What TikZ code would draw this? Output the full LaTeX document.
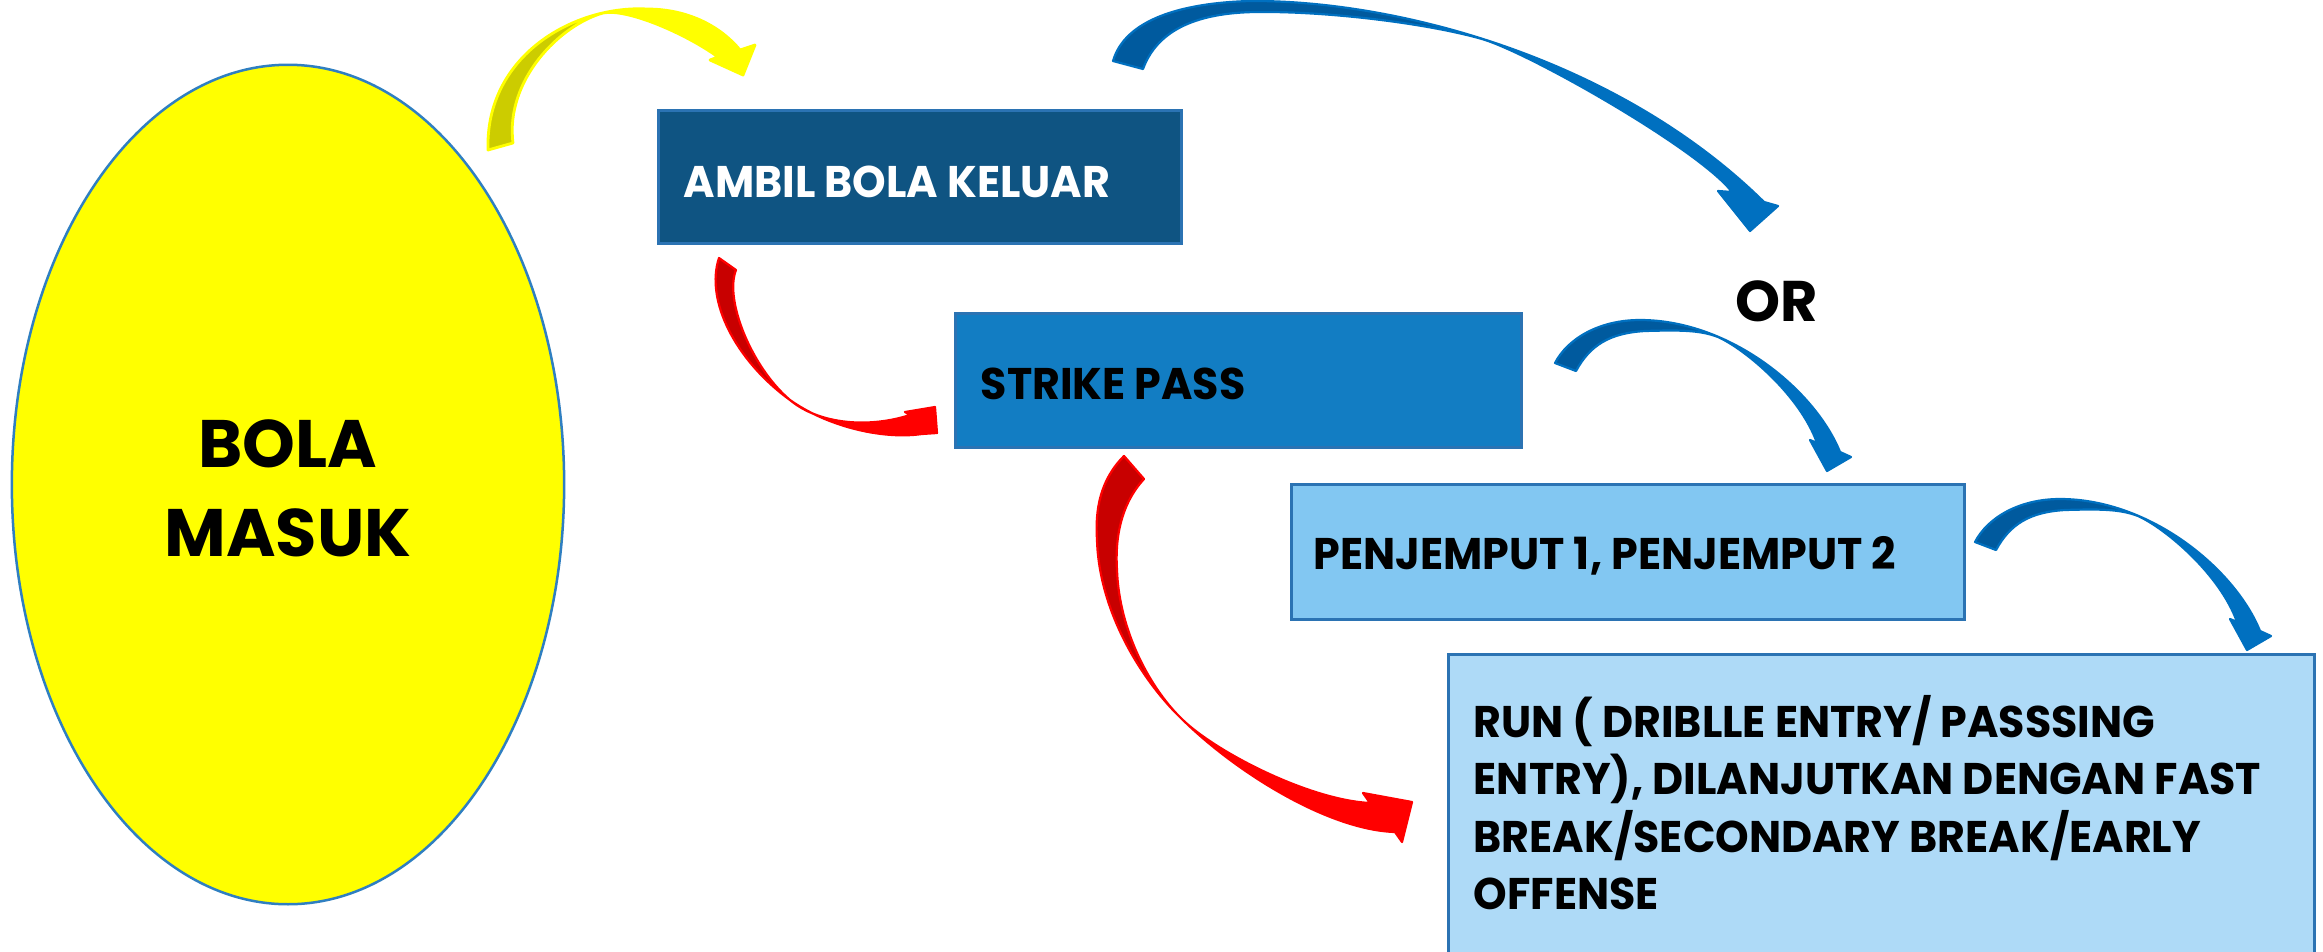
\documentclass[tikz,border=0pt]{standalone}
\usepackage{fontspec}
\setmainfont{Poppins}
\newfontfamily\condfont{Poppins}[FakeStretch=0.965]
\usetikzlibrary{shapes.geometric}
\definecolor{yelA}{HTML}{FFFF00}
\definecolor{yelD}{HTML}{CCCC00}
\definecolor{redA}{HTML}{FF0000}
\definecolor{redD}{HTML}{C80000}
\definecolor{bluA}{HTML}{0070C0}
\definecolor{bluD}{HTML}{005A9E}
\definecolor{ambilfill}{HTML}{0F5482}
\definecolor{strikefill}{HTML}{127DC3}
\definecolor{penjfill}{HTML}{82C7F2}
\definecolor{runfill}{HTML}{AEDAF7}
\definecolor{boxline}{HTML}{2B73B3}
\definecolor{ellline}{HTML}{2F7FC1}
\tikzset{
  box/.style={rectangle, draw=boxline, line width=0.03cm, inner sep=0pt},
  boxtext/.style={anchor=base west, inner sep=0pt, font=\condfont\bfseries\fontsize{12.6}{16.3}\selectfont},
  rim/.style={line width=0.022cm, line join=round},
}
\newcommand\ypath{(488,150) .. controls (485,55) and (575,5) .. (647,9) .. controls (690,9) and (722,28) .. (740,50) -- (755,45) -- (743,75) -- (710,60) -- (718,57) .. controls (688,35) and (628,8) .. (603,13) .. controls (560,25) and (505,80) .. (513,143) -- cycle}
\newcommand\bApath{(1113,61) .. controls (1125,20) and (1180,3) .. (1250,1) .. controls (1400,0) and (1620,60) .. (1764,202) -- (1778,206) -- (1750,231) -- (1718,191) -- (1732,192) .. controls (1700,150) and (1530,53) .. (1482,39) .. controls (1430,24) and (1330,11) .. (1255,12) .. controls (1200,13) and (1158,28) .. (1143,69) -- cycle}
\newcommand\bBpath{(1555,363) .. controls (1568,338) and (1600,320) .. (1640,320) .. controls (1730,320) and (1815,390) .. (1840,452) -- (1851,457) -- (1827,471) -- (1810,440) -- (1817,443) .. controls (1800,395) and (1745,349) .. (1718,337) .. controls (1700,330) and (1680,330) .. (1645,331) .. controls (1610,333) and (1590,345) .. (1576,371) -- cycle}
\newcommand\rApath{(719,258) .. controls (705,300) and (735,360) .. (790,400) .. controls (825,425) and (880,440) .. (922,434) -- (937,433) -- (935,407) -- (905,412) -- (910,415) .. controls (870,428) and (820,425) .. (790,400) .. controls (752,368) and (724,300) .. (736,270) -- cycle}
\newcommand\rBpath{(1124,456) .. controls (1100,480) and (1095,510) .. (1097,540) .. controls (1099,610) and (1140,680) .. (1185,722) .. controls (1240,775) and (1330,830) .. (1395,832) -- (1402,842) -- (1412,802) -- (1363,793) -- (1370,803) .. controls (1310,800) and (1220,754) .. (1185,722) .. controls (1150,690) and (1119,630) .. (1117,570) .. controls (1115,540) and (1120,505) .. (1144,479) -- cycle}
\begin{document}
\begin{tikzpicture}[x=0.01cm,y=-0.01cm]
\useasboundingbox[fill=white] (0,0) rectangle (2323,951);

% ellipse
\node[ellipse, draw=ellline, line width=0.025cm, fill=yelA, minimum width=5.52cm, minimum height=8.39cm, inner sep=0pt] (bola) at (288,484.5) {};
\node[anchor=base, inner sep=0pt, font=\bfseries\fontsize{19.1}{25.3}\selectfont] (bolat1) at (288,467) {BOLA};
\node[anchor=base, inner sep=0pt, font=\bfseries\fontsize{19.1}{25.3}\selectfont] (bolat2) at (288,556) {MASUK};

% boxes
\node[box, fill=ambilfill, minimum width=5.22cm, minimum height=1.32cm] (ambil) at (920,177) {};
\node[boxtext, text=white] (ambilt) at (683,197) {AMBIL BOLA KELUAR};

\node[box, fill=strikefill, minimum width=5.65cm, minimum height=1.33cm] (strike) at (1238.5,380.5) {};
\node[boxtext, text=black] (strikett) at (980,399) {STRIKE PASS};

\node[box, fill=penjfill, minimum width=6.72cm, minimum height=1.34cm] (penj) at (1628,552) {};
\node[boxtext, text=black] (penjt) at (1313,569) {PENJEMPUT 1, PENJEMPUT 2};

\node[box, fill=runfill, minimum width=8.65cm, minimum height=3.45cm] (run) at (1881.5,827.5) {};
\node[boxtext, text=black] (runt1) at (1473,737) {RUN ( DRIBLLE ENTRY/ PASSSING};
\node[boxtext, text=black] (runt2) at (1473,794) {ENTRY), DILANJUTKAN DENGAN FAST};
\node[boxtext, text=black] (runt3) at (1473,852) {BREAK/SECONDARY BREAK/EARLY};
\node[boxtext, text=black] (runt4) at (1473,909) {OFFENSE};

\node[anchor=base, inner sep=0pt, font=\bfseries\fontsize{16.3}{20}\selectfont] (ort) at (1777,321) {OR};

% yellow arrow
\fill[yelA] \ypath;
\begin{scope}\clip (400,0) rectangle (603,200); \fill[yelD] \ypath; \end{scope}
\draw[yelA, rim, line width=0.028cm] \ypath;

% big blue arrow
\fill[bluA] \bApath;
\begin{scope}\clip (1000,-10) rectangle (1482,150); \fill[bluD] \bApath; \end{scope}
\draw[bluA, rim] \bApath;

% blue arrows 2 and 3
\foreach \dx/\dy in {0/0, 420/179}{
\begin{scope}[shift={(\dx,\dy)}]
\fill[bluA] \bBpath;
\begin{scope}\clip (1500,300) rectangle (1718,400); \fill[bluD] \bBpath; \end{scope}
\draw[bluA, rim] \bBpath;
\end{scope}}

% red arrow 1
\fill[redA] \rApath;
\begin{scope}\clip (898,250) -- (718,500) -- (600,500) -- (600,200) -- (898,200) -- cycle; \fill[redD] \rApath; \end{scope}
\draw[redA, rim] \rApath;

% red arrow 2
\fill[redA] \rBpath;
\begin{scope}\clip (1371,522) -- (1092,822) -- (1000,822) -- (1000,420) -- (1371,420) -- cycle; \fill[redD] \rBpath; \end{scope}
\draw[redA, rim] \rBpath;
\end{tikzpicture}
\end{document}
